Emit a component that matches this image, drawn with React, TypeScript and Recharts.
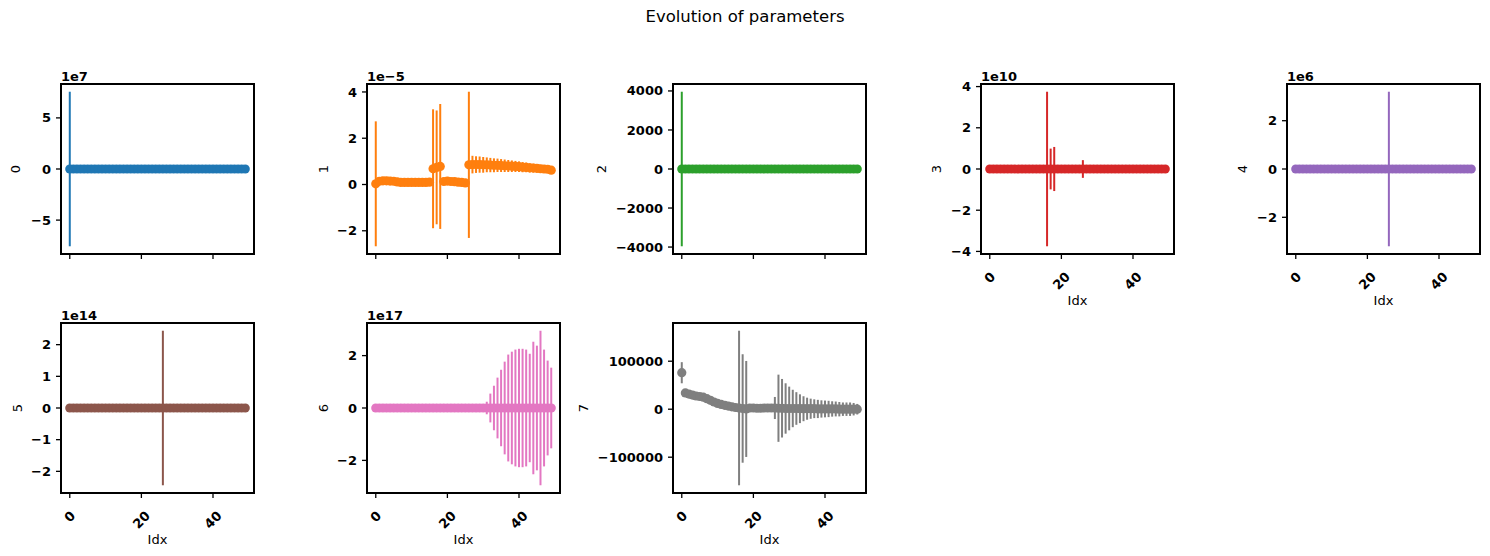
import React from 'react';
import { ScatterChart, Scatter, XAxis, YAxis, ErrorBar, ReferenceArea } from 'recharts';

// Iteration index shared by every parameter
const idx = [
  0, 1, 2, 3, 4, 5, 6, 7, 8, 9,
  10, 11, 12, 13, 14, 15, 16, 17, 18, 19,
  20, 21, 22, 23, 24, 25, 26, 27, 28, 29,
  30, 31, 32, 33, 34, 35, 36, 37, 38, 39,
  40, 41, 42, 43, 44, 45, 46, 47, 48, 49,
];

// Parameter estimates and their uncertainties, in units of each panel's scale
const p0Values = [
  0, 0, 0, 0, 0, 0, 0, 0, 0, 0,
  0, 0, 0, 0, 0, 0, 0, 0, 0, 0,
  0, 0, 0, 0, 0, 0, 0, 0, 0, 0,
  0, 0, 0, 0, 0, 0, 0, 0, 0, 0,
  0, 0, 0, 0, 0, 0, 0, 0, 0, 0,
];
const p0Errors = [
  7.56, 0, 0, 0, 0, 0, 0, 0, 0, 0,
  0, 0, 0, 0, 0, 0, 0, 0, 0, 0,
  0, 0, 0, 0, 0, 0, 0, 0, 0, 0,
  0, 0, 0, 0, 0, 0, 0, 0, 0, 0,
  0, 0, 0, 0, 0, 0, 0, 0, 0, 0,
];

const p1Values = [
  0.03, 0.14, 0.16, 0.16, 0.15, 0.14, 0.11, 0.09, 0.09, 0.09,
  0.09, 0.09, 0.09, 0.09, 0.09, 0.1, 0.68, 0.74, 0.78, 0.13,
  0.15, 0.13, 0.12, 0.1, 0.09, 0.07, 0.85, 0.86, 0.86, 0.86,
  0.85, 0.85, 0.84, 0.83, 0.83, 0.82, 0.81, 0.8, 0.79, 0.78,
  0.77, 0.75, 0.74, 0.72, 0.71, 0.7, 0.68, 0.67, 0.66, 0.62,
];
const p1Errors = [
  2.7, 0, 0, 0, 0, 0, 0, 0, 0, 0,
  0, 0, 0, 0, 0, 0, 2.57, 2.46, 2.7, 0,
  0, 0, 0, 0, 0, 0, 3.16, 0.38, 0.36, 0.35,
  0.34, 0.32, 0.31, 0.3, 0.29, 0.28, 0.27, 0.26, 0.25, 0.24,
  0.23, 0.22, 0.21, 0.2, 0.19, 0.18, 0.17, 0.16, 0.15, 0.14,
];

const p2Values = [
  0, 0, 0, 0, 0, 0, 0, 0, 0, 0,
  0, 0, 0, 0, 0, 0, 0, 0, 0, 0,
  0, 0, 0, 0, 0, 0, 0, 0, 0, 0,
  0, 0, 0, 0, 0, 0, 0, 0, 0, 0,
  0, 0, 0, 0, 0, 0, 0, 0, 0, 0,
];
const p2Errors = [
  3960, 0, 0, 0, 0, 0, 0, 0, 0, 0,
  0, 0, 0, 0, 0, 0, 0, 0, 0, 0,
  0, 0, 0, 0, 0, 0, 0, 0, 0, 0,
  0, 0, 0, 0, 0, 0, 0, 0, 0, 0,
  0, 0, 0, 0, 0, 0, 0, 0, 0, 0,
];

const p3Values = [
  0, 0, 0, 0, 0, 0, 0, 0, 0, 0,
  0, 0, 0, 0, 0, 0, 0, 0, 0, 0,
  0, 0, 0, 0, 0, 0, 0, 0, 0, 0,
  0, 0, 0, 0, 0, 0, 0, 0, 0, 0,
  0, 0, 0, 0, 0, 0, 0, 0, 0, 0,
];
const p3Errors = [
  0, 0, 0, 0, 0, 0, 0, 0, 0, 0,
  0, 0, 0, 0, 0, 0, 3.75, 0.99, 1.07, 0,
  0, 0, 0, 0, 0, 0, 0.43, 0, 0, 0,
  0, 0, 0, 0, 0, 0, 0, 0, 0, 0,
  0, 0, 0, 0, 0, 0, 0, 0, 0, 0,
];

const p4Values = [
  0, 0, 0, 0, 0, 0, 0, 0, 0, 0,
  0, 0, 0, 0, 0, 0, 0, 0, 0, 0,
  0, 0, 0, 0, 0, 0, 0, 0, 0, 0,
  0, 0, 0, 0, 0, 0, 0, 0, 0, 0,
  0, 0, 0, 0, 0, 0, 0, 0, 0, 0,
];
const p4Errors = [
  0, 0, 0, 0, 0, 0, 0, 0, 0, 0,
  0, 0, 0, 0, 0, 0, 0, 0, 0, 0,
  0, 0, 0, 0, 0, 0, 3.2, 0, 0, 0,
  0, 0, 0, 0, 0, 0, 0, 0, 0, 0,
  0, 0, 0, 0, 0, 0, 0, 0, 0, 0,
];

const p5Values = [
  0, 0, 0, 0, 0, 0, 0, 0, 0, 0,
  0, 0, 0, 0, 0, 0, 0, 0, 0, 0,
  0, 0, 0, 0, 0, 0, 0, 0, 0, 0,
  0, 0, 0, 0, 0, 0, 0, 0, 0, 0,
  0, 0, 0, 0, 0, 0, 0, 0, 0, 0,
];
const p5Errors = [
  0, 0, 0, 0, 0, 0, 0, 0, 0, 0,
  0, 0, 0, 0, 0, 0, 0, 0, 0, 0,
  0, 0, 0, 0, 0, 0, 2.44, 0, 0, 0,
  0, 0, 0, 0, 0, 0, 0, 0, 0, 0,
  0, 0, 0, 0, 0, 0, 0, 0, 0, 0,
];

const p6Values = [
  0, 0, 0, 0, 0, 0, 0, 0, 0, 0,
  0, 0, 0, 0, 0, 0, 0, 0, 0, 0,
  0, 0, 0, 0, 0, 0, 0, 0, 0, 0,
  0, 0, 0, 0, 0, 0, 0, 0, 0, 0,
  0, 0, 0, 0, 0, 0, 0, 0, 0, 0,
];
const p6Errors = [
  0, 0, 0, 0, 0, 0, 0, 0, 0, 0,
  0, 0, 0, 0, 0, 0, 0, 0, 0, 0,
  0, 0, 0, 0, 0, 0, 0, 0, 0, 0,
  0, 0.24, 0.55, 0.85, 1.16, 1.46, 1.77, 2.04, 2.15, 2.23,
  2.26, 2.26, 2.23, 2.07, 2.53, 2.38, 2.95, 2.23, 1.81, 1.54,
];

const p7Values = [
  76000, 34000, 31500, 29500, 27500, 26500, 25000, 22000, 18500, 15000,
  12000, 10000, 8000, 6500, 5000, 3500, 2500, 1500, 500, 2500,
  2500, 2000, 2000, 2500, 2500, 2500, 2500, 2000, 2000, 1500,
  1500, 1500, 1500, 1000, 1000, 1000, 1000, 1000, 500, 500,
  500, 500, 500, 500, 0, 0, 0, 0, 0, 0,
];
const p7Errors = [
  22000, 0, 0, 0, 0, 0, 0, 0, 0, 0,
  0, 0, 0, 0, 0, 0, 161000, 113000, 100000, 0,
  0, 0, 0, 0, 0, 0, 23000, 70000, 61000, 52500,
  45500, 39000, 34000, 30000, 26000, 23000, 21000, 19600, 19000, 18000,
  17500, 17000, 16000, 15500, 15000, 14000, 14000, 14000, 13000, 11000,
];

// Axis scale factors (shown as offset text) and tick marks in scaled units
const scales = [1e7, 1e-5, 1, 1e10, 1e6, 1e14, 1e17, 1];
const offsetTexts = ['1e7', '1e\u22125', '', '1e10', '1e6', '1e14', '1e17', ''];
const yTicks = [
  [-5, 0, 5],
  [-2, 0, 2, 4],
  [-4000, -2000, 0, 2000, 4000],
  [-4, -2, 0, 2, 4],
  [-2, 0, 2],
  [-2, -1, 0, 1, 2],
  [-2, 0, 2],
  [-100000, 0, 100000],
];
const xTicks = [0, 20, 40];
const paramNames = ['0', '1', '2', '3', '4', '5', '6', '7'];
const colors = ['#1f77b4', '#ff7f0e', '#2ca02c', '#d62728', '#9467bd', '#8c564b', '#e377c2', '#7f7f7f'];
const allValues = [p0Values, p1Values, p2Values, p3Values, p4Values, p5Values, p6Values, p7Values];
const allErrors = [p0Errors, p1Errors, p2Errors, p3Errors, p4Errors, p5Errors, p6Errors, p7Errors];

// Layout of each panel's plotting box on the page
const panelBoxes = [
  { left: 61, top: 84, showX: false, yLabelGap: 46 },
  { left: 367, top: 84, showX: false, yLabelGap: 44 },
  { left: 673, top: 84, showX: false, yLabelGap: 72 },
  { left: 981, top: 84, showX: true, yLabelGap: 45 },
  { left: 1287, top: 84, showX: true, yLabelGap: 45 },
  { left: 61, top: 323, showX: true, yLabelGap: 44 },
  { left: 367, top: 323, showX: true, yLabelGap: 44 },
  { left: 673, top: 323, showX: true, yLabelGap: 90 },
];

const FONT = '"DejaVu Sans", "Liberation Sans", sans-serif';
const PLOT_W = 193;
const PLOT_H = 170;
const Y_AXIS_W = 100;
const TOP_M = 30;
const BOTTOM_AXIS_H = 60;
const RIGHT_M = 5;
const CHART_W = Y_AXIS_W + PLOT_W + RIGHT_M;
const CHART_H = TOP_M + PLOT_H + BOTTOM_AXIS_H;
const X_DOMAIN: [number, number] = [-2.45, 51.45];

function formatTick(v: number, scale: number): string {
  const m = Math.round((v / scale) * 1000) / 1000;
  return m < 0 ? '\u2212' + String(-m) : String(m);
}

function autoDomain(values: number[], errors: number[], scale: number): [number, number] {
  let lo = Infinity;
  let hi = -Infinity;
  values.forEach((v, k) => {
    lo = Math.min(lo, (v - errors[k]) * scale);
    hi = Math.max(hi, (v + errors[k]) * scale);
  });
  const pad = (hi - lo) * 0.05;
  return [lo - pad, hi + pad];
}

const YTick = (props: any) => {
  const { x, y, payload, scale } = props;
  return (
    <text x={x} y={y} dy="0.35em" textAnchor="end" fontFamily={FONT} fontWeight="bold" fontSize={13} fill="#000">
      {formatTick(payload.value, scale)}
    </text>
  );
};

const XTick = (props: any) => {
  const { x, y, payload, show } = props;
  if (!show) return <g />;
  const s = String(payload.value);
  const w = 9.05 * s.length;
  const h = 15.2;
  const boxH = (w + h) / Math.SQRT2;
  const cy = y + 10 + boxH / 2;
  return (
    <text
      x={x}
      y={cy}
      dy="0.35em"
      textAnchor="middle"
      transform={`rotate(-45, ${x}, ${cy})`}
      fontFamily={FONT}
      fontWeight="bold"
      fontSize={13}
      fill="#000"
    >
      {s}
    </text>
  );
};

const YNameLabel = ({ name, gap, offsetText }: { name: string; gap: number; offsetText: string }) => {
  const cx = Y_AXIS_W - gap;
  const cy = TOP_M + PLOT_H / 2;
  return (
    <g>
      <text x={cx} y={cy} dy="0.35em" textAnchor="middle" transform={`rotate(-90, ${cx}, ${cy})`} fontFamily={FONT} fontSize={13} fill="#000">
        {name}
      </text>
      {offsetText ? (
        <text x={Y_AXIS_W} y={TOP_M - 3} textAnchor="start" fontFamily={FONT} fontWeight="bold" fontSize={13} fill="#000">
          {offsetText}
        </text>
      ) : null}
    </g>
  );
};

const XNameLabel = ({ show }: { show: boolean }) =>
  show ? (
    <text x={Y_AXIS_W + PLOT_W / 2} y={TOP_M + PLOT_H + 50.5} textAnchor="middle" fontFamily={FONT} fontSize={13} fill="#000">
      Idx
    </text>
  ) : (
    <g />
  );

function Panel({ k }: { k: number }) {
  const box = panelBoxes[k];
  const scale = scales[k];
  const color = colors[k];
  const values = allValues[k];
  const errors = allErrors[k];
  const rows = idx.map((i, j) => ({ idx: i, v: values[j] * scale, err: errors[j] * scale }));
  const yDomain = autoDomain(values, errors, scale);
  const ticks = yTicks[k].map((t) => t * scale);
  return (
    <div style={{ position: 'absolute', left: box.left - Y_AXIS_W, top: box.top - TOP_M, width: CHART_W, height: CHART_H }}>
      <ScatterChart width={CHART_W} height={CHART_H} margin={{ top: TOP_M, right: RIGHT_M, bottom: 0, left: 0 }}>
        <XAxis
          type="number"
          dataKey="idx"
          domain={X_DOMAIN}
          ticks={xTicks}
          interval={0}
          height={BOTTOM_AXIS_H}
          axisLine={false}
          tickSize={5}
          tickMargin={0}
          tickLine={{ stroke: '#000', strokeWidth: 1.3 }}
          tick={<XTick show={box.showX} />}
          label={<XNameLabel show={box.showX} />}
        />
        <YAxis
          type="number"
          dataKey="v"
          domain={yDomain}
          ticks={ticks}
          interval={0}
          width={Y_AXIS_W}
          axisLine={false}
          tickSize={5}
          tickMargin={5}
          tickLine={{ stroke: '#000', strokeWidth: 1.3 }}
          tick={<YTick scale={scale} />}
          label={<YNameLabel name={paramNames[k]} gap={box.yLabelGap} offsetText={offsetTexts[k]} />}
        />
        <Scatter
          data={rows}
          fill={color}
          isAnimationActive={false}
          shape={(p: any) => <circle cx={p.cx} cy={p.cy} r={4.6} fill={color} />}
        >
          <ErrorBar dataKey="err" direction="y" width={0} stroke={color} strokeWidth={2} isAnimationActive={false} />
        </Scatter>
        <ReferenceArea
          x1={X_DOMAIN[0]}
          x2={X_DOMAIN[1]}
          y1={yDomain[0]}
          y2={yDomain[1]}
          fill="none"
          fillOpacity={0}
          stroke="#000"
          strokeWidth={2}
          strokeOpacity={1}
          ifOverflow="visible"
        />
      </ScatterChart>
    </div>
  );
}

export default function App() {
  return (
    <div style={{ position: 'absolute', left: 0, top: 0, width: 1490, height: 556, background: '#fff', overflow: 'hidden' }}>
      <div
        style={{
          position: 'absolute',
          left: 0,
          top: 6,
          width: 1490,
          textAlign: 'center',
          fontFamily: FONT,
          fontSize: 16.5,
          lineHeight: '22px',
          color: '#000',
        }}
      >
        Evolution of parameters
      </div>
      {paramNames.map((_, k) => (
        <Panel key={k} k={k} />
      ))}
    </div>
  );
}
